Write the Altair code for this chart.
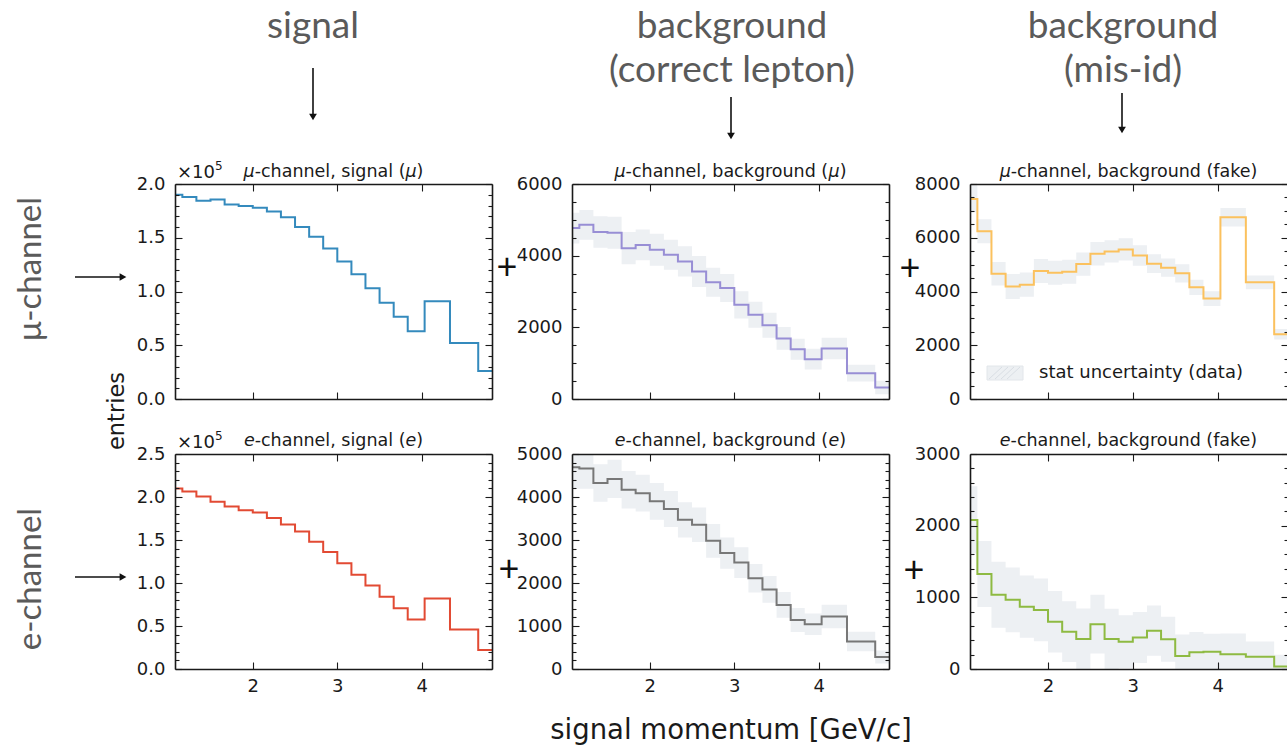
import altair as alt
import pandas as pd

W, H = 1287, 747

# bin edges of signal momentum [GeV/c] (visible range)
edges = [1.08, 1.167, 1.333, 1.5, 1.667, 1.833, 2.0, 2.167, 2.333, 2.5, 2.667, 2.833,
         3.0, 3.167, 3.333, 3.5, 3.667, 3.833, 4.033, 4.333, 4.667, 4.83]

# mu-channel signal (x 10^5 entries)
mu_sig = [1.90, 1.88, 1.845, 1.855, 1.81, 1.795, 1.78, 1.745, 1.69, 1.60, 1.51,
          1.40, 1.28, 1.16, 1.03, 0.895, 0.765, 0.63, 0.91, 0.52, 0.26]
# e-channel signal (x 10^5 entries)
e_sig = [2.10, 2.065, 2.005, 1.945, 1.89, 1.845, 1.82, 1.755, 1.68, 1.60, 1.48,
         1.36, 1.23, 1.095, 0.97, 0.84, 0.705, 0.575, 0.82, 0.46, 0.22]
# mu-channel background (mu)
mu_bkg = [4770, 4860, 4660, 4640, 4210, 4300, 4165, 4025, 3840, 3560, 3260,
          3095, 2630, 2350, 2060, 1690, 1390, 1110, 1410, 720, 320]
mu_bkg_err = [430, 415, 440, 445, 447, 430, 447, 420, 420, 433, 405,
              390, 380, 365, 350, 317, 293, 289, 298, 233, 187]
# e-channel background (e)
e_bkg = [4690, 4660, 4325, 4420, 4170, 4090, 3900, 3720, 3470, 3355, 2980,
         2695, 2475, 2110, 1850, 1490, 1140, 1040, 1220, 640, 280]
e_bkg_err = [500, 470, 435, 445, 435, 427, 428, 420, 410, 400, 395,
             365, 357, 330, 310, 300, 280, 250, 272, 225, 150]
# mu-channel background (fake)
mu_fake = [7445, 6245, 4660, 4190, 4255, 4760, 4700, 4735, 5020, 5405, 5490,
           5565, 5340, 5035, 4885, 4675, 4155, 3735, 6765, 4340, 2410]
mu_fake_err = [500, 445, 435, 465, 450, 445, 445, 450, 430, 435, 415,
               415, 385, 350, 340, 340, 285, 272, 346, 260, 198]
# e-channel background (fake)
e_fake = [2080, 1325, 1035, 965, 870, 825, 660, 520, 420, 625, 420,
          380, 440, 535, 415, 180, 235, 240, 205, 170, 35]
e_fake_err = [470, 460, 460, 452, 435, 438, 430, 424, 425, 410, 420,
              370, 356, 350, 315, 300, 280, 252, 289, 214, 163]

x_ticks = [2, 3, 4]

# panel titles: (segment, italic)
panel_titles = [
    [("μ", True), ("-channel, signal (", False), ("μ", True), (")", False)],
    [("μ", True), ("-channel, background (", False), ("μ", True), (")", False)],
    [("μ", True), ("-channel, background (fake)", False)],
    [("e", True), ("-channel, signal (", False), ("e", True), (")", False)],
    [("e", True), ("-channel, background (", False), ("e", True), (")", False)],
    [("e", True), ("-channel, background (fake)", False)],
]

BAND = "#edf0f3"
DARK = "#1a1a1a"
ANN = "#5a5a5a"
FONT = "DejaVu Sans"
TFS = 17.5

# DejaVu Sans advance widths (em)
ADV = {" ": 0.3179, "(": 0.3901, ")": 0.3901, ",": 0.3179, "-": 0.3608, "a": 0.6128,
       "b": 0.6348, "c": 0.5498, "d": 0.6348, "e": 0.6152, "f": 0.3521, "g": 0.6348,
       "h": 0.6338, "i": 0.2778, "k": 0.5791, "l": 0.2778, "n": 0.6338, "o": 0.6118,
       "r": 0.4111, "s": 0.5210, "t": 0.3921, "u": 0.6338, "μ": 0.6348}


def tw(s):
    return sum(ADV.get(ch, 0.6) for ch in s) * TFS


def ts(n):
    return {"expr": str(n)}


def frange(a, b, step):
    out = []
    k = 0
    while a + k * step <= b + 1e-9:
        out.append(round(a + k * step, 6))
        k += 1
    return out


def axis(orient, offset, values, size, labels=False, domain=True, fmt=None, pad=17):
    kw = dict(orient=orient, offset=offset, values=values, tickSize=ts(size),
              labels=labels, domain=domain, grid=False, title=None, zindex=3,
              domainColor=DARK, domainWidth=1.6, tickColor=DARK, tickWidth=1.1,
              labelFont=FONT, labelFontSize=18, labelColor=DARK,
              labelPadding=pad, labelOverlap=False, labelFlush=False)
    if fmt:
        kw["format"] = fmt
    return alt.Axis(**kw)


def panel(vals, errs, color, xr, yr, ydom, ystep, minor_step, fmt, xlabels):
    n = len(vals)
    rows = []
    for i, x in enumerate(edges):
        j = min(i, n - 1)
        v = vals[j]
        e = errs[j] if errs else 0
        rows.append({"x": x, "y": v, "lo": max(v - e, ydom[0]),
                     "hi": min(v + e, ydom[1])})
    df = pd.DataFrame(rows)
    xs = alt.Scale(domain=[edges[0], edges[-1]], range=[xr[0], xr[1]], nice=False, zero=False)
    ys = alt.Scale(domain=ydom, range=[yr[1], yr[0]], nice=False, zero=False)
    major = frange(ydom[0], ydom[1], ystep)
    minor = [m for m in frange(ydom[0], ydom[1], minor_step)
             if all(abs(m - M) > 1e-6 for M in major)]
    base = alt.Chart(df)
    line = base.mark_line(interpolate="step-after", color=color, strokeWidth=2).encode(
        x=alt.X("x:Q", scale=xs,
                axis=axis("bottom", yr[1] - H, x_ticks, -7, labels=xlabels, pad=15)),
        y=alt.Y("y:Q", scale=ys, axis=axis("left", -xr[0], major, -7, labels=True, fmt=fmt)),
    )
    if errs:
        band = base.mark_area(interpolate="step-after", color=BAND, opacity=1).encode(
            x=alt.X("x:Q", scale=xs, axis=axis("top", -yr[0], x_ticks, -7)),
            y=alt.Y("lo:Q", scale=ys, axis=axis("left", -xr[0], minor, -4, domain=False)),
            y2="hi:Q",
        )
    else:
        band = base.mark_line(opacity=0).encode(
            x=alt.X("x:Q", scale=xs, axis=axis("top", -yr[0], x_ticks, -7)),
            y=alt.Y("y:Q", scale=ys, axis=axis("left", -xr[0], minor, -4, domain=False)),
        )
    h3 = base.mark_line(opacity=0).encode(
        x=alt.X("x:Q", scale=xs, axis=None),
        y=alt.Y("y:Q", scale=ys, axis=axis("right", xr[1] - W, major, -7)),
    )
    h4 = base.mark_line(opacity=0).encode(
        x=alt.X("x:Q", scale=xs, axis=None),
        y=alt.Y("y:Q", scale=ys, axis=axis("right", xr[1] - W, minor, -4, domain=False)),
    )
    return alt.layer(band, line, h3, h4).resolve_axis(x="independent", y="independent")


C1, C2, C3 = (175, 492), (572, 889), (970, 1288)
R1, R2 = (184, 399), (454, 669)

panels = [
    panel(mu_sig, None, "#348ABD", C1, R1, [0, 2.0], 0.5, 0.1, ".1f", False),
    panel(mu_bkg, mu_bkg_err, "#988ED5", C2, R1, [0, 6000], 2000, 500, "d", False),
    panel(mu_fake, mu_fake_err, "#FBC15E", C3, R1, [0, 8000], 2000, 500, "d", False),
    panel(e_sig, None, "#E24A33", C1, R2, [0, 2.5], 0.5, 0.1, ".1f", True),
    panel(e_bkg, e_bkg_err, "#777777", C2, R2, [0, 5000], 1000, 200, "d", True),
    panel(e_fake, e_fake_err, "#8EBA42", C3, R2, [0, 3000], 1000, 200, "d", True),
]


def text_layer(items, **kw):
    df = pd.DataFrame(items, columns=["px", "py", "t"])
    return alt.Chart(df).mark_text(**kw).encode(
        x=alt.X("px:Q", scale=None, axis=None),
        y=alt.Y("py:Q", scale=None, axis=None),
        text="t:N",
    )


headers = text_layer(
    [(313, 38, "signal"), (732, 38, "background"), (732, 82, "(correct lepton)"),
     (1123, 38, "background"), (1123, 82, "(mis-id)")],
    font="Lato", fontSize=37, color=ANN, align="center", baseline="alphabetic")

side = text_layer(
    [(31, 269, "μ-channel"), (31, 579, "e-channel")],
    font="Lato", fontSize=33, color=ANN, align="center",
    baseline="middle", angle=270)

entries = text_layer([(117, 411, "entries")], font=FONT, fontSize=22.5, color=DARK,
                     align="center", baseline="middle", angle=270)

xlabel = text_layer([(731, 731, "signal momentum [GeV/c]")], font=FONT, fontSize=27.5,
                    color=DARK, align="center", baseline="middle")

# panel titles split into regular / italic pieces
centers = [(333.5, 172), (730.5, 172), (1129, 172), (333.5, 441), (730.5, 441), (1129, 441)]
reg_items, ita_items = [], []
for segs, (cx, cy) in zip(panel_titles, centers):
    total = sum(tw(s) for s, _ in segs)
    x0 = cx - total / 2
    for s, it in segs:
        (ita_items if it else reg_items).append((x0, cy, s))
        x0 += tw(s)
titles_reg = text_layer(reg_items, font=FONT, fontSize=TFS, color=DARK, align="left",
                        baseline="middle")
titles_ita = text_layer(ita_items, font=FONT, fontSize=TFS, fontStyle="italic", color=DARK,
                        align="left", baseline="middle")

sci = text_layer([(177, 178, "×10"), (177, 448, "×10")], font=FONT, fontSize=18,
                 color=DARK, align="left", baseline="alphabetic")
sci5 = text_layer([(215, 170, "5"), (215, 440, "5")], font=FONT, fontSize=12,
                  color=DARK, align="left", baseline="alphabetic")

plus = text_layer([(507, 268, "+"), (910, 269, "+"), (509, 570, "+"), (914, 571, "+")],
                  font="Lato", fontSize=36, color="#111111",
                  align="center", baseline="middle")

legend_txt = text_layer([(1039, 373, "stat uncertainty (data)")], font=FONT, fontSize=18,
                        color=DARK, align="left", baseline="middle")

legend_box = alt.Chart(pd.DataFrame([{"a": 987, "b": 1023, "c": 366, "d": 380}])).mark_rect(
    fill=BAND, stroke="#e2e6ea", strokeWidth=1).encode(
    x=alt.X("a:Q", scale=None, axis=None), x2="b:Q",
    y=alt.Y("c:Q", scale=None, axis=None), y2="d:Q")

# light hatch inside the legend patch
hatch = pd.DataFrame([{"a": x0, "b": x0 + 13, "c": 379, "d": 367}
                      for x0 in range(989, 1010, 6)])
legend_hatch = alt.Chart(hatch).mark_rule(color="#d9dee4", strokeWidth=1).encode(
    x=alt.X("a:Q", scale=None, axis=None), x2="b:Q",
    y=alt.Y("c:Q", scale=None, axis=None), y2="d:Q")

arrows = pd.DataFrame([
    {"a": 313, "b": 313, "c": 68, "d": 116},
    {"a": 731, "b": 731, "c": 97, "d": 135},
    {"a": 1122, "b": 1122, "c": 93, "d": 129},
    {"a": 75, "b": 122, "c": 277, "d": 277},
    {"a": 75, "b": 122, "c": 577, "d": 577},
])
arrow_lines = alt.Chart(arrows).mark_rule(color="#111111", strokeWidth=1.6).encode(
    x=alt.X("a:Q", scale=None, axis=None), x2="b:Q",
    y=alt.Y("c:Q", scale=None, axis=None), y2="d:Q")

heads_down = alt.Chart(pd.DataFrame([{"a": 313, "c": 117}, {"a": 731, "c": 136},
                                     {"a": 1122, "c": 130}])).mark_point(
    shape="triangle-down", filled=True, size=60, color="#111111", opacity=1).encode(
    x=alt.X("a:Q", scale=None, axis=None), y=alt.Y("c:Q", scale=None, axis=None))
heads_right = alt.Chart(pd.DataFrame([{"a": 123, "c": 277}, {"a": 123, "c": 577}])).mark_point(
    shape="triangle-right", filled=True, size=60, color="#111111", opacity=1).encode(
    x=alt.X("a:Q", scale=None, axis=None), y=alt.Y("c:Q", scale=None, axis=None))

chart = alt.layer(
    *panels, headers, side, entries, xlabel, titles_reg, titles_ita, sci, sci5, plus,
    legend_box, legend_hatch, legend_txt, arrow_lines, heads_down, heads_right,
).resolve_scale(x="independent", y="independent").resolve_axis(
    x="independent", y="independent"
).properties(
    width=W, height=H, padding=0, autosize=alt.AutoSizeParams(type="none"),
    background="white",
).configure_view(stroke=None)

chart.save("out.html", embed_options={"renderer": "svg", "actions": False})
